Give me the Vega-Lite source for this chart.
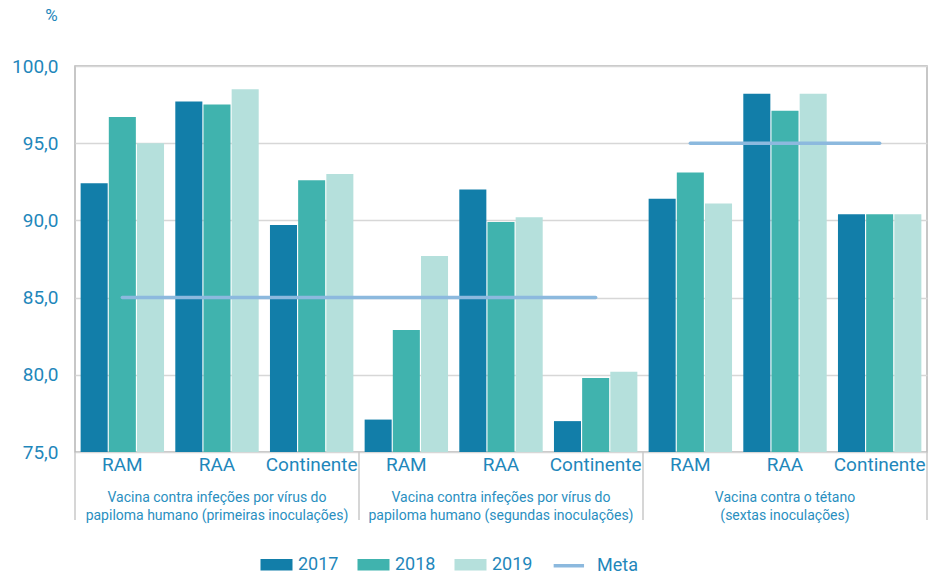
{
  "$schema": "https://vega.github.io/schema/vega-lite/v6.json",
  "width": 852,
  "height": 386,
  "autosize": {"type": "none"},
  "padding": {"left": 75, "top": 66, "right": 9, "bottom": 122},
  "config": {
    "font": "Roboto",
    "view": {"stroke": "#b5b5b5", "strokeWidth": 1.5},
    "axis": {"labelColor": "#1f87bb", "titleColor": "#1f87bb"}
  },
  "datasets": {
    "bars": [
      {"cat": "g1_RAM", "series": "2017", "value": 92.4},
      {"cat": "g1_RAM", "series": "2018", "value": 96.7},
      {"cat": "g1_RAM", "series": "2019", "value": 95.0},
      {"cat": "g1_RAA", "series": "2017", "value": 97.7},
      {"cat": "g1_RAA", "series": "2018", "value": 97.5},
      {"cat": "g1_RAA", "series": "2019", "value": 98.5},
      {"cat": "g1_Continente", "series": "2017", "value": 89.7},
      {"cat": "g1_Continente", "series": "2018", "value": 92.6},
      {"cat": "g1_Continente", "series": "2019", "value": 93.0},
      {"cat": "g2_RAM", "series": "2017", "value": 77.1},
      {"cat": "g2_RAM", "series": "2018", "value": 82.9},
      {"cat": "g2_RAM", "series": "2019", "value": 87.7},
      {"cat": "g2_RAA", "series": "2017", "value": 92.0},
      {"cat": "g2_RAA", "series": "2018", "value": 89.9},
      {"cat": "g2_RAA", "series": "2019", "value": 90.2},
      {"cat": "g2_Continente", "series": "2017", "value": 77.0},
      {"cat": "g2_Continente", "series": "2018", "value": 79.8},
      {"cat": "g2_Continente", "series": "2019", "value": 80.2},
      {"cat": "g3_RAM", "series": "2017", "value": 91.4},
      {"cat": "g3_RAM", "series": "2018", "value": 93.1},
      {"cat": "g3_RAM", "series": "2019", "value": 91.1},
      {"cat": "g3_RAA", "series": "2017", "value": 98.2},
      {"cat": "g3_RAA", "series": "2018", "value": 97.1},
      {"cat": "g3_RAA", "series": "2019", "value": 98.2},
      {"cat": "g3_Continente", "series": "2017", "value": 90.4},
      {"cat": "g3_Continente", "series": "2018", "value": 90.4},
      {"cat": "g3_Continente", "series": "2019", "value": 90.4}
    ],
    "meta": [
      {"cat": "g1_RAM", "cat2": "g2_Continente", "value": 85, "series": "Meta"},
      {"cat": "g3_RAM", "cat2": "g3_Continente", "value": 95, "series": "Meta"}
    ],
    "groups": [
      {"cat": "g1_RAA", "label": ["Vacina contra infeções por vírus do", "papiloma humano (primeiras inoculações)"]},
      {"cat": "g2_RAA", "label": ["Vacina contra infeções por vírus do", "papiloma humano (segundas inoculações)"]},
      {"cat": "g3_RAA", "label": ["Vacina contra o tétano", "(sextas inoculações)"]}
    ],
    "sepsStart": [{"cat": "g1_RAM"}, {"cat": "g2_RAM"}, {"cat": "g3_RAM"}],
    "sepsEnd": [{"cat": "g3_Continente"}]
  },
  "layer": [
    {
      "data": {"name": "bars"},
      "mark": {"type": "bar"},
      "encoding": {
        "x": {
          "field": "cat",
          "type": "nominal",
          "scale": {
            "domain": ["g1_RAM", "g1_RAA", "g1_Continente", "g2_RAM", "g2_RAA", "g2_Continente", "g3_RAM", "g3_RAA", "g3_Continente"],
            "paddingInner": 0,
            "paddingOuter": 0
          },
          "axis": {
            "title": null,
            "labelExpr": "split(datum.label, '_')[1]",
            "labelAngle": 0,
            "labelFontSize": 19,
            "labelPadding": 3,
            "tickSize": 0,
            "domain": false,
            "grid": false
          }
        },
        "xOffset": {
          "field": "series",
          "type": "nominal",
          "scale": {"paddingInner": 0.04, "paddingOuter": 0.2}
        },
        "y": {
          "field": "value",
          "type": "quantitative",
          "scale": {"domain": [75, 100], "zero": false, "nice": false},
          "axis": {
            "values": [75, 80, 85, 90, 95, 100],
            "labelExpr": "replace(format(datum.value, '.1f'), '.', ',')",
            "labelFontSize": 19,
            "labelPadding": 17,
            "tickSize": 0,
            "domain": false,
            "gridColor": "#d7d7d7",
            "gridWidth": 1.5,
            "title": "%",
            "titleAngle": 0,
            "titleFontSize": 17,
            "titleFontWeight": "normal",
            "titleAlign": "center",
            "titleBaseline": "middle",
            "titleX": -24,
            "titleY": -51
          }
        },
        "y2": {"datum": 75},
        "color": {
          "field": "series",
          "type": "nominal",
          "scale": {
            "domain": ["2017", "2018", "2019", "Meta"],
            "range": ["#127ea9", "#40b3ae", "#b5e0dc", "#8cb9de"]
          },
          "legend": {
            "title": null,
            "orient": "none",
            "direction": "horizontal",
            "legendX": 190,
            "legendY": 487,
            "labelFontSize": 18,
            "labelColor": "#1f87bb",
            "symbolSize": 361,
            "labelOffset": 10,
            "columnPadding": 13,
            "encode": {
              "symbols": {
                "update": {
                  "shape": {"signal": "datum.value === 'Meta' ? 'M-2.3,0L0.9,0' : 'M-1.5,-0.42L1.5,-0.42L1.5,0.42L-1.5,0.42Z'"},
                  "fill": {"signal": "datum.value === 'Meta' ? 'transparent' : scale('color', datum.value)"},
                  "stroke": {"signal": "datum.value === 'Meta' ? '#8cb9de' : 'transparent'"},
                  "strokeWidth": {"value": 3.5},
                  "opacity": {"value": 1}
                }
              }
            }
          }
        }
      }
    },
    {
      "data": {"name": "meta"},
      "mark": {"type": "rule", "strokeWidth": 3.5, "strokeCap": "round"},
      "encoding": {
        "x": {"field": "cat", "type": "nominal"},
        "x2": {"field": "cat2"},
        "y": {"field": "value", "type": "quantitative"},
        "color": {"field": "series", "type": "nominal"}
      }
    },
    {
      "data": {"name": "sepsStart"},
      "mark": {"type": "rule", "color": "#c8c8c8", "strokeWidth": 1.5, "clip": false},
      "encoding": {
        "x": {"field": "cat", "type": "nominal", "bandPosition": 0},
        "y": {"datum": 75},
        "y2": {"datum": 70.6}
      }
    },
    {
      "data": {"name": "sepsEnd"},
      "mark": {"type": "rule", "color": "#c8c8c8", "strokeWidth": 1.5, "clip": false},
      "encoding": {
        "x": {"field": "cat", "type": "nominal", "bandPosition": 1},
        "y": {"datum": 75},
        "y2": {"datum": 70.6}
      }
    },
    {
      "data": {"name": "groups"},
      "mark": {"type": "text", "fontSize": 14, "color": "#2a8fbf", "baseline": "top", "dy": 39, "lineHeight": 18},
      "encoding": {
        "x": {"field": "cat", "type": "nominal"},
        "y": {"datum": 75},
        "text": {"field": "label"}
      }
    }
  ]
}
